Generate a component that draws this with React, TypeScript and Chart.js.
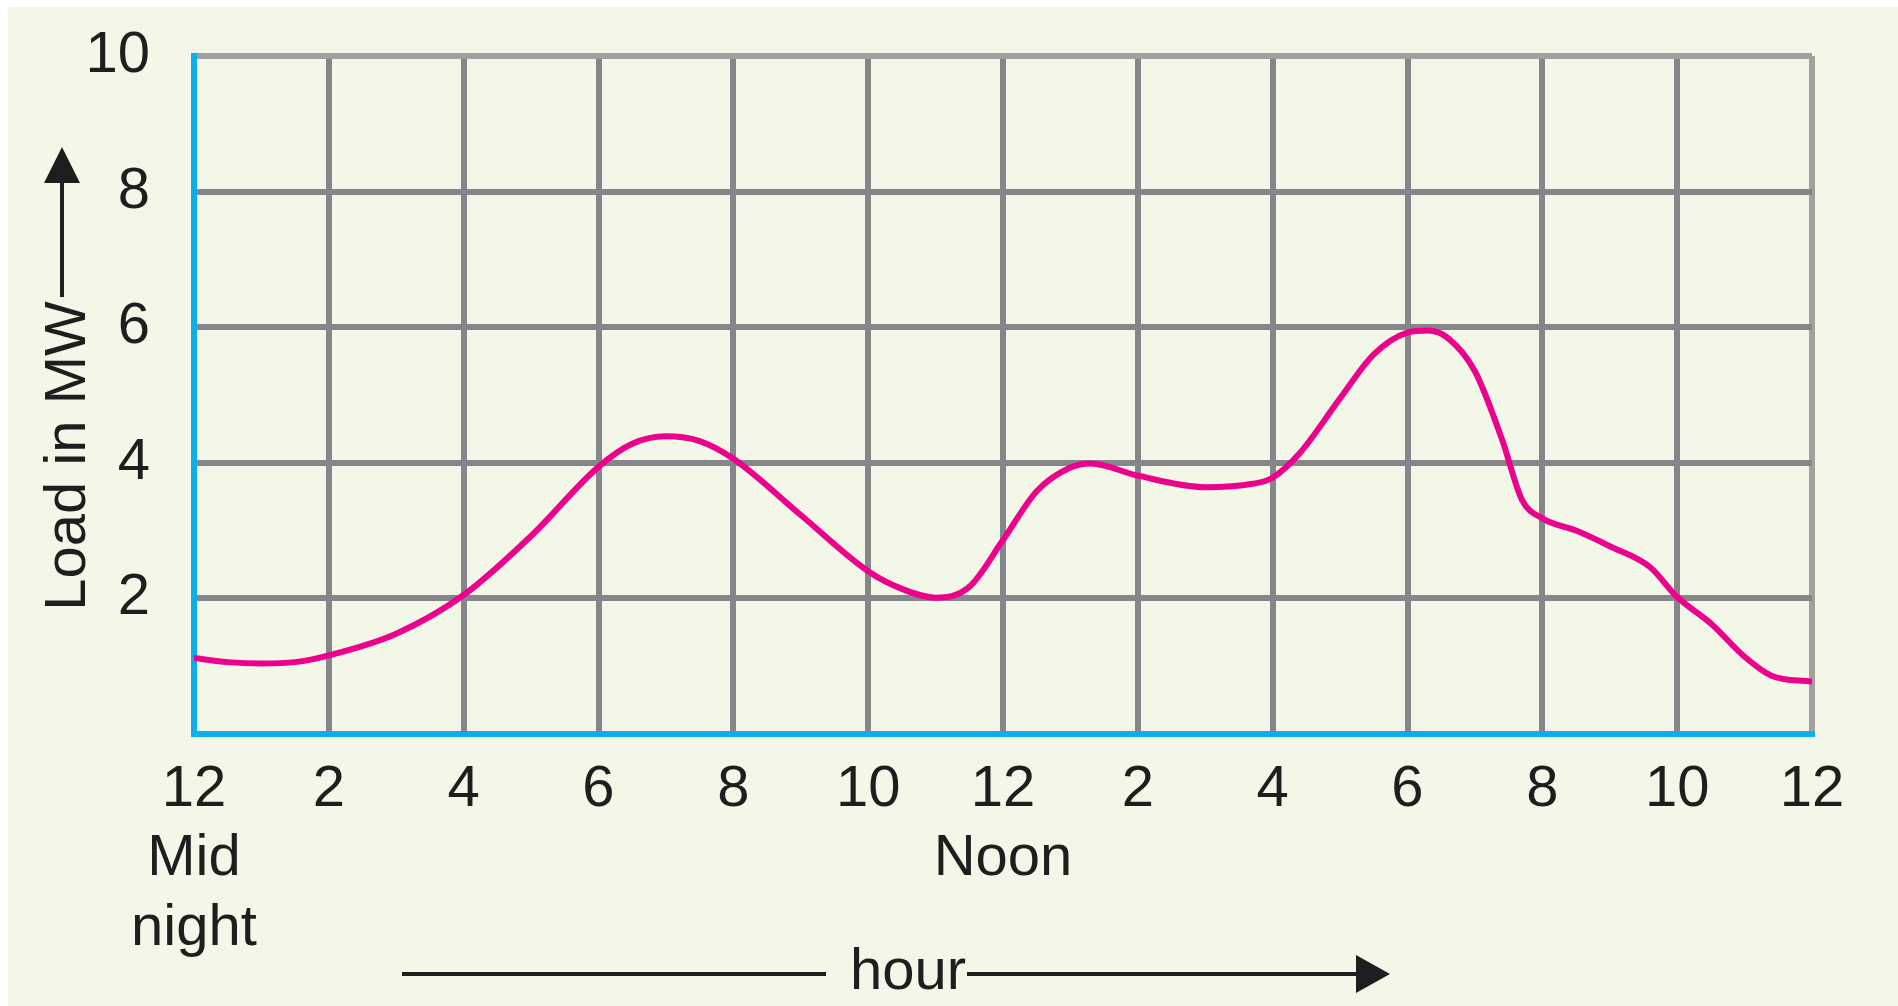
import React, { useEffect, useRef } from 'react';
import { Chart, registerables } from 'chart.js';

Chart.register(...registerables);

// ---- data (hours from midnight, load in MW) ----
const hours = [
  0, 0.5, 1, 1.5, 2, 3, 4, 5, 6, 6.5, 7, 7.5, 8, 9, 10, 10.5, 11, 11.5, 12, 12.5,
  13, 13.3, 14, 15, 15.7, 16, 16.4, 17, 17.5, 18, 18.3, 18.6, 19, 19.4, 19.7, 20,
  20.5, 21, 21.6, 22, 22.5, 23, 23.4, 24,
];
const loadMW = [
  1.12, 1.06, 1.04, 1.06, 1.16, 1.48, 2.05, 2.92, 3.94, 4.28, 4.39, 4.32, 4.06, 3.23, 2.4, 2.14, 2.01, 2.17, 2.86, 3.58,
  3.93, 3.99, 3.81, 3.64, 3.69, 3.78, 4.14, 4.95, 5.6, 5.92, 5.95, 5.84, 5.35, 4.35, 3.45, 3.18,
  3.0, 2.77, 2.46, 2.02, 1.63, 1.14, 0.86, 0.77,
];
const xTickLabels = ['12', '2', '4', '6', '8', '10', '12', '2', '4', '6', '8', '10', '12'];
const xTickNotes = ['Mid\nnight', '', '', '', '', '', 'Noon', '', '', '', '', '', ''];
const yTickLabels = ['', '2', '4', '6', '8', '10'];
const yTitle = 'Load in MW';
const xTitle = 'hour';

const FONT = '"Liberation Sans", Arial, Helvetica, sans-serif';
const INK = '#1f1d1e';
const GRID = '#85868a';
const GRID_LIGHT = '#a0a19f';
const AXIS_BLUE = '#0badea';
const CURVE = '#ec008c';
const BG = '#f3f7e7';

const titlesPlugin = {
  id: 'arrowTitles',
  afterDraw(chart: any) {
    const ctx = chart.ctx as CanvasRenderingContext2D;
    ctx.save();
    ctx.fillStyle = INK;
    ctx.strokeStyle = INK;
    ctx.lineWidth = 4;
    ctx.font = `58px ${FONT}`;

    // Y title (rotated) + upward arrow
    ctx.save();
    ctx.translate(77, 449);
    ctx.rotate(-Math.PI / 2);
    ctx.textAlign = 'center';
    ctx.textBaseline = 'alphabetic';
    ctx.fillText(yTitle, 0, 0);
    ctx.restore();

    ctx.beginPath();
    ctx.moveTo(54, 290);
    ctx.lineTo(54, 172);
    ctx.stroke();
    ctx.beginPath();
    ctx.moveTo(54, 140);
    ctx.lineTo(36, 176);
    ctx.lineTo(72, 176);
    ctx.closePath();
    ctx.fill();

    // X title + arrow to the right
    ctx.textAlign = 'center';
    ctx.textBaseline = 'alphabetic';
    ctx.fillText(xTitle, 900, 982);
    ctx.beginPath();
    ctx.moveTo(394, 967);
    ctx.lineTo(818, 967);
    ctx.moveTo(959, 967);
    ctx.lineTo(1352, 967);
    ctx.stroke();
    ctx.beginPath();
    ctx.moveTo(1382, 967);
    ctx.lineTo(1348, 948);
    ctx.lineTo(1348, 986);
    ctx.closePath();
    ctx.fill();
    ctx.restore();
  },
};

export default function App() {
  const ref = useRef<HTMLCanvasElement | null>(null);

  useEffect(() => {
    if (!ref.current) return;
    const chart = new Chart(ref.current, {
      type: 'line',
      data: {
        datasets: [
          {
            label: yTitle,
            data: hours.map((h, i) => ({ x: h, y: loadMW[i] })),
            borderColor: CURVE,
            borderWidth: 6,
            pointRadius: 0,
            cubicInterpolationMode: 'monotone',
            fill: false,
          },
        ],
      },
      options: {
        animation: false,
        responsive: false,
        devicePixelRatio: 1,
        layout: { padding: { top: 49, right: 86, left: 0, bottom: 0 } },
        plugins: {
          legend: { display: false },
          tooltip: { enabled: false },
        },
        scales: {
          x: {
            type: 'linear',
            min: 0,
            max: 24,
            afterFit: (s: any) => {
              s.height = 272;
              s.paddingLeft = 0;
              s.paddingRight = 0;
              s.paddingTop = 0;
              s.paddingBottom = 0;
            },
            afterBuildTicks: (s: any) => {
              s.ticks = xTickLabels.map((_, i) => ({ value: i * 2 }));
            },
            ticks: {
              stepSize: 2,
              autoSkip: false,
              maxRotation: 0,
              minRotation: 0,
              padding: 21,
              color: INK,
              font: { family: FONT, size: 58, lineHeight: 1.2 },
              callback: (_v: any, i: number) => {
                const note = xTickNotes[i];
                return note ? [xTickLabels[i], ...note.split('\n')] : xTickLabels[i];
              },
            },
            grid: {
              drawTicks: false,
              lineWidth: 6,
              color: (c: any) => (c.tick && c.tick.value === 24 ? GRID_LIGHT : GRID),
            },
            border: { color: AXIS_BLUE, width: 6 },
          },
          y: {
            type: 'linear',
            min: 0,
            max: 10,
            afterFit: (s: any) => {
              s.width = 186;
              s.paddingTop = 0;
              s.paddingBottom = 0;
              s.paddingLeft = 0;
              s.paddingRight = 0;
            },
            ticks: {
              stepSize: 2,
              padding: 44,
              color: INK,
              font: { family: FONT, size: 58 },
              callback: (v: any) => yTickLabels[Math.round(Number(v) / 2)] ?? '',
            },
            grid: {
              drawTicks: false,
              lineWidth: 6,
              color: (c: any) => (c.tick && c.tick.value === 10 ? GRID_LIGHT : GRID),
            },
            border: { color: AXIS_BLUE, width: 6 },
          },
        },
      },
      plugins: [titlesPlugin],
    } as any);
    return () => chart.destroy();
  }, []);

  return (
    <div
      style={{
        position: 'fixed',
        left: 8,
        top: 7,
        width: 1890,
        height: 999,
        background: BG,
      }}
    >
      <canvas ref={ref} width={1890} height={999} style={{ display: 'block' }} />
    </div>
  );
}
